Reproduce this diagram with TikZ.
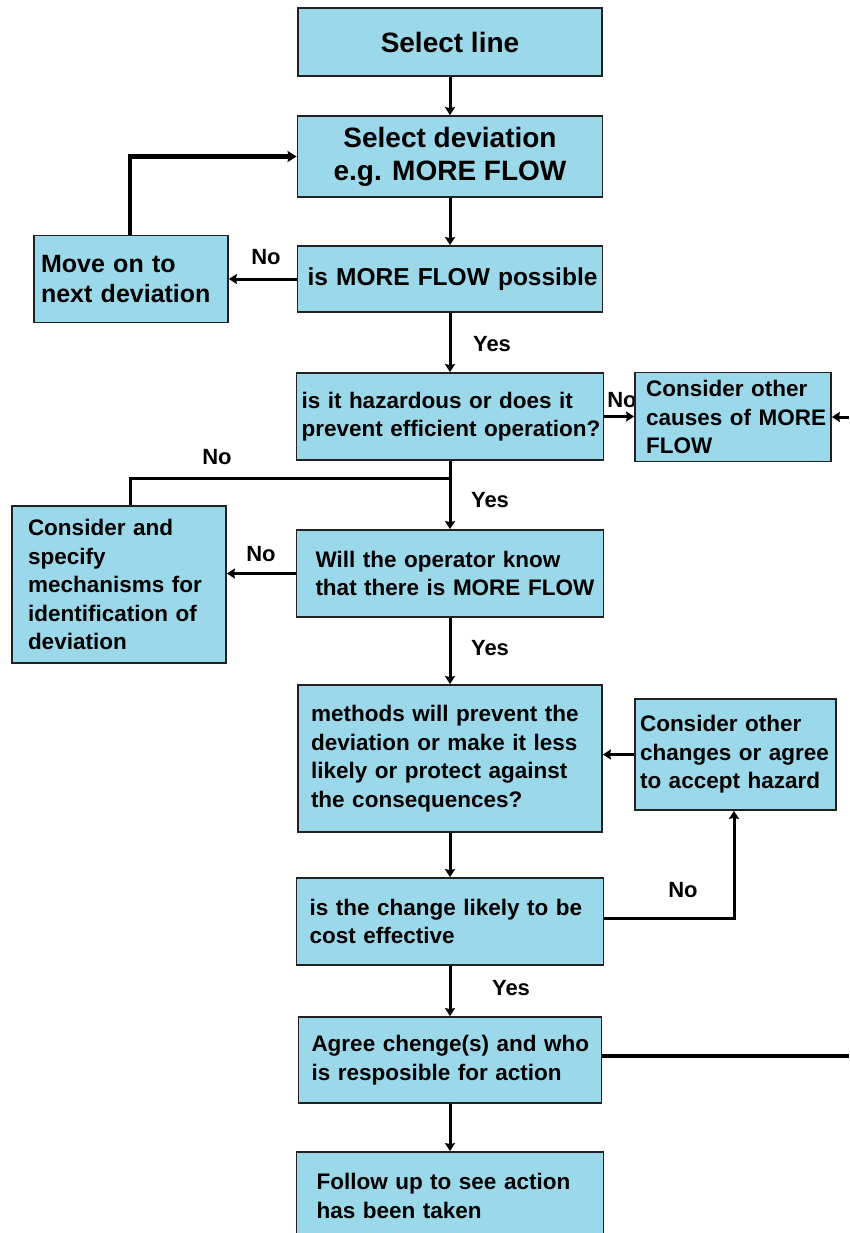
\documentclass[tikz,border=0pt]{standalone}
\usepackage{fontspec}
\setmainfont{Liberation Sans}
\usetikzlibrary{arrows.meta,positioning,calc}
\definecolor{boxblue}{RGB}{155,216,233}
\definecolor{boxline}{RGB}{34,34,34}
\newcommand\Tl[1]{\mbox{#1}}
\tikzset{
  box/.style={draw=boxline, line width=1.8pt, fill=boxblue, rectangle, inner ysep=0pt,
    align=left, font=\bfseries\fontsize{22.5}{28.5}\selectfont},
  cbox/.style={box, align=center},
  conn/.style={draw=black, line width=3pt},
  arr/.style={conn, -{Stealth[length=8pt,width=10pt,inset=1pt]}},
  thickconn/.style={draw=black, line width=4.5pt},
  lbl/.style={font=\bfseries\fontsize{22}{26}\selectfont, inner sep=0pt}
}
\begin{document}
\begin{tikzpicture}[x=1pt,y=-1pt]
\useasboundingbox (0,0) rectangle (849,1233);
\clip (0,0) rectangle (849,1233);

% main column
\node[cbox, minimum width=304pt, minimum height=68pt, font=\bfseries\fontsize{28}{33}\selectfont] (b1) at (450,42) {Select line};
\node[cbox, minimum width=305pt, minimum height=81pt, font=\bfseries\fontsize{28}{33}\selectfont] (b2) at (450,156.5) {Select deviation\\ e.g. MORE FLOW};
\node[box, minimum width=305pt, minimum height=66pt, inner xsep=10pt, text width=285pt, font=\bfseries\fontsize{24.5}{29}\selectfont] (b3) at (450,279) {\Tl{is MORE FLOW possible}};
\node[box, minimum width=194pt, minimum height=87pt, inner xsep=7pt, text width=180pt, font=\bfseries\fontsize{25}{30}\selectfont] (mv) at (131,279) {\Tl{Move on to}\\\Tl{next deviation}};

\node[box, minimum width=307pt, minimum height=87pt, inner xsep=5pt, text width=297pt] (b4) at (450,416.5) {\Tl{is it hazardous or does it}\\\Tl{prevent efficient operation?}};
\node[lbl] (no2) at (622,400) {No};
\node[box, minimum width=196pt, minimum height=89pt, inner xsep=11pt, text width=174pt] (oc) at (733,417) {\Tl{Consider other}\\\Tl{causes of MORE}\\\Tl{FLOW}};

\node[box, minimum width=307pt, minimum height=87pt, inner xsep=19pt, text width=269pt] (b5) at (450,573.5) {\Tl{Will the operator know}\\\Tl{that there is MORE FLOW}};
\node[box, minimum width=214pt, minimum height=157pt, inner xsep=16pt, text width=182pt] (cs) at (119,584.5) {\Tl{Consider and}\\\Tl{specify}\\\Tl{mechanisms for}\\\Tl{identification of}\\\Tl{deviation}};

\node[box, minimum width=304pt, minimum height=147pt, inner xsep=13pt, text width=278pt] (b7) at (450,758.5) {\Tl{methods will prevent the}\\\Tl{deviation or make it less}\\\Tl{likely or protect against}\\\Tl{the consequences?}};
\node[box, minimum width=201pt, minimum height=111pt, inner xsep=5pt, text width=191pt] (ch) at (735.5,754.5) {\Tl{Consider other}\\\Tl{changes or agree}\\\Tl{to accept hazard}\\[6pt]};

\node[box, minimum width=307pt, minimum height=87pt, inner xsep=13pt, text width=281pt] (b8) at (450,921.5) {\Tl{is the change likely to be}\\\Tl{cost effective}};
\node[box, minimum width=303pt, minimum height=86pt, inner xsep=13pt, text width=277pt] (b9) at (450,1060) {\Tl{Agree chenge(s) and who}\\\Tl{is resposible for action}};
\node[box, minimum width=307pt, minimum height=88pt, inner xsep=20pt, text width=267pt] (b10) at (450,1196) {\Tl{Follow up to see action}\\\Tl{has been taken}};

% labels
\node[lbl] (no1) at (266,257) {No};
\node[lbl] (yes1) at (492,344) {Yes};
\node[lbl] (no3) at (217,457) {No};
\node[lbl] (yes2) at (490,500) {Yes};
\node[lbl] (no4) at (261,554) {No};
\node[lbl] (yes3) at (490,648) {Yes};
\node[lbl] (no5) at (683,890) {No};
\node[lbl] (yes4) at (511,988) {Yes};

% coordinates for free ends
\coordinate (redge1) at (849,417);
\coordinate (redge2) at (849,1056);
\coordinate (j1) at (450,478);

% connectors
\draw[arr] (b1.south) -- (b2.north);
\draw[arr] (b2.south) -- (b3.north);
\draw[arr] (b3.west) -- (mv.east);
\draw[thickconn, -{Stealth[length=9pt,width=11pt,inset=1pt]}] ([xshift=-1pt]mv.north) |- (b2.west);
\draw[arr] (b3.south) -- (b4.north);
\draw[arr] (b4.east) -- (b4.east -| oc.west);
\draw[arr] (redge1) -- (oc.east);
\draw[arr] (b4.south) -- (b5.north);
\draw[conn] (j1) -| ([xshift=11pt]cs.north);
\draw[arr] (b5.west) -- (b5.west -| cs.east);
\draw[arr] (b5.south) -- (b7.north);
\draw[arr] (ch.west) -- (ch.west -| b7.east);
\draw[arr] (b7.south) -- (b8.north);
\draw[arr] ([yshift=3pt]b8.east) -| ([xshift=-1.5pt]ch.south);
\draw[arr] (b8.south) -- (b9.north);
\draw[thickconn] (b9.east |- redge2) -- (redge2);
\draw[arr] (b9.south) -- (b10.north);
\end{tikzpicture}
\end{document}
